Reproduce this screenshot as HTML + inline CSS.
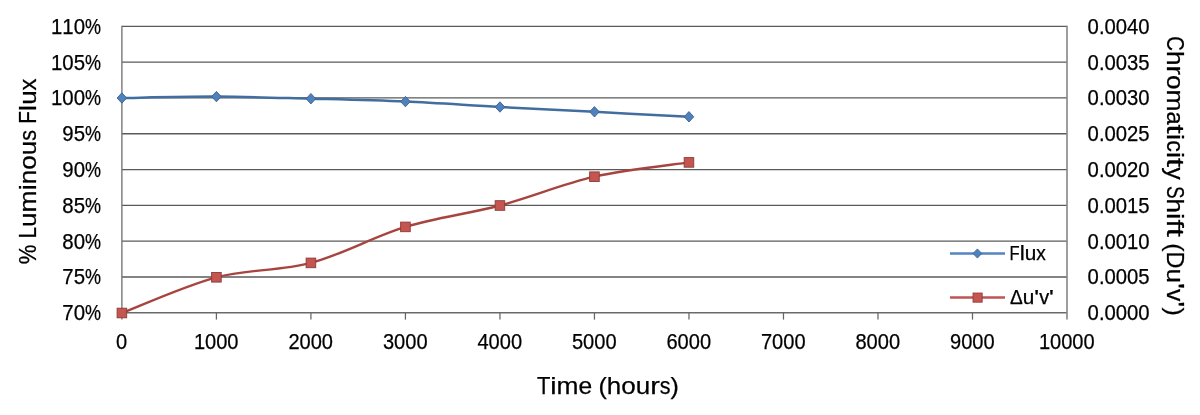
<!DOCTYPE html>
<html><head><meta charset="utf-8"><style>
html,body{margin:0;padding:0;background:#fff;width:1200px;height:415px;overflow:hidden}
svg{display:block;will-change:transform}
text{font-family:"Liberation Sans",sans-serif;stroke:#000;stroke-width:0.25px}
</style></head><body>
<svg width="1200" height="415" viewBox="0 0 1200 415">
<rect width="1200" height="415" fill="#fff"/>
<line x1="121.90" y1="26.30" x2="1067.00" y2="26.30" stroke="#5a5a5a" stroke-width="1.3"/>
<line x1="121.90" y1="62.11" x2="1067.00" y2="62.11" stroke="#5a5a5a" stroke-width="1.3"/>
<line x1="121.90" y1="97.92" x2="1067.00" y2="97.92" stroke="#5a5a5a" stroke-width="1.3"/>
<line x1="121.90" y1="133.74" x2="1067.00" y2="133.74" stroke="#5a5a5a" stroke-width="1.3"/>
<line x1="121.90" y1="169.55" x2="1067.00" y2="169.55" stroke="#5a5a5a" stroke-width="1.3"/>
<line x1="121.90" y1="205.36" x2="1067.00" y2="205.36" stroke="#5a5a5a" stroke-width="1.3"/>
<line x1="121.90" y1="241.18" x2="1067.00" y2="241.18" stroke="#5a5a5a" stroke-width="1.3"/>
<line x1="121.90" y1="276.99" x2="1067.00" y2="276.99" stroke="#5a5a5a" stroke-width="1.3"/>
<line x1="121.90" y1="312.80" x2="1067.00" y2="312.80" stroke="#6a6a6a" stroke-width="1.45"/>
<line x1="121.90" y1="25.65" x2="121.90" y2="319.60" stroke="#737373" stroke-width="1.35"/>
<line x1="1067.00" y1="25.65" x2="1067.00" y2="319.60" stroke="#868686" stroke-width="1.6"/>
<line x1="216.41" y1="312.80" x2="216.41" y2="319.60" stroke="#666666" stroke-width="1.25"/>
<line x1="310.92" y1="312.80" x2="310.92" y2="319.60" stroke="#666666" stroke-width="1.25"/>
<line x1="405.43" y1="312.80" x2="405.43" y2="319.60" stroke="#666666" stroke-width="1.25"/>
<line x1="499.94" y1="312.80" x2="499.94" y2="319.60" stroke="#666666" stroke-width="1.25"/>
<line x1="594.45" y1="312.80" x2="594.45" y2="319.60" stroke="#666666" stroke-width="1.25"/>
<line x1="688.96" y1="312.80" x2="688.96" y2="319.60" stroke="#666666" stroke-width="1.25"/>
<line x1="783.47" y1="312.80" x2="783.47" y2="319.60" stroke="#666666" stroke-width="1.25"/>
<line x1="877.98" y1="312.80" x2="877.98" y2="319.60" stroke="#666666" stroke-width="1.25"/>
<line x1="972.49" y1="312.80" x2="972.49" y2="319.60" stroke="#666666" stroke-width="1.25"/>
<g transform="translate(0,33.70)"><text x="50.94" y="0" font-size="21.60" textLength="11.35" lengthAdjust="spacingAndGlyphs">1</text><text x="62.29" y="0" font-size="21.60" textLength="11.35" lengthAdjust="spacingAndGlyphs">1</text><text x="73.65" y="0" font-size="21.60" textLength="11.35" lengthAdjust="spacingAndGlyphs">0</text><text x="85.00" y="0" font-size="21.60" textLength="16.00" lengthAdjust="spacingAndGlyphs">%</text></g>
<g transform="translate(0,69.51)"><text x="50.94" y="0" font-size="21.60" textLength="11.35" lengthAdjust="spacingAndGlyphs">1</text><text x="62.29" y="0" font-size="21.60" textLength="11.35" lengthAdjust="spacingAndGlyphs">0</text><text x="73.65" y="0" font-size="21.60" textLength="11.35" lengthAdjust="spacingAndGlyphs">5</text><text x="85.00" y="0" font-size="21.60" textLength="16.00" lengthAdjust="spacingAndGlyphs">%</text></g>
<g transform="translate(0,105.33)"><text x="50.94" y="0" font-size="21.60" textLength="11.35" lengthAdjust="spacingAndGlyphs">1</text><text x="62.29" y="0" font-size="21.60" textLength="11.35" lengthAdjust="spacingAndGlyphs">0</text><text x="73.65" y="0" font-size="21.60" textLength="11.35" lengthAdjust="spacingAndGlyphs">0</text><text x="85.00" y="0" font-size="21.60" textLength="16.00" lengthAdjust="spacingAndGlyphs">%</text></g>
<g transform="translate(0,141.14)"><text x="62.29" y="0" font-size="21.60" textLength="11.35" lengthAdjust="spacingAndGlyphs">9</text><text x="73.65" y="0" font-size="21.60" textLength="11.35" lengthAdjust="spacingAndGlyphs">5</text><text x="85.00" y="0" font-size="21.60" textLength="16.00" lengthAdjust="spacingAndGlyphs">%</text></g>
<g transform="translate(0,176.95)"><text x="62.29" y="0" font-size="21.60" textLength="11.35" lengthAdjust="spacingAndGlyphs">9</text><text x="73.65" y="0" font-size="21.60" textLength="11.35" lengthAdjust="spacingAndGlyphs">0</text><text x="85.00" y="0" font-size="21.60" textLength="16.00" lengthAdjust="spacingAndGlyphs">%</text></g>
<g transform="translate(0,212.76)"><text x="62.29" y="0" font-size="21.60" textLength="11.35" lengthAdjust="spacingAndGlyphs">8</text><text x="73.65" y="0" font-size="21.60" textLength="11.35" lengthAdjust="spacingAndGlyphs">5</text><text x="85.00" y="0" font-size="21.60" textLength="16.00" lengthAdjust="spacingAndGlyphs">%</text></g>
<g transform="translate(0,248.58)"><text x="62.29" y="0" font-size="21.60" textLength="11.35" lengthAdjust="spacingAndGlyphs">8</text><text x="73.65" y="0" font-size="21.60" textLength="11.35" lengthAdjust="spacingAndGlyphs">0</text><text x="85.00" y="0" font-size="21.60" textLength="16.00" lengthAdjust="spacingAndGlyphs">%</text></g>
<g transform="translate(0,284.39)"><text x="62.29" y="0" font-size="21.60" textLength="11.35" lengthAdjust="spacingAndGlyphs">7</text><text x="73.65" y="0" font-size="21.60" textLength="11.35" lengthAdjust="spacingAndGlyphs">5</text><text x="85.00" y="0" font-size="21.60" textLength="16.00" lengthAdjust="spacingAndGlyphs">%</text></g>
<g transform="translate(0,320.20)"><text x="62.29" y="0" font-size="21.60" textLength="11.35" lengthAdjust="spacingAndGlyphs">7</text><text x="73.65" y="0" font-size="21.60" textLength="11.35" lengthAdjust="spacingAndGlyphs">0</text><text x="85.00" y="0" font-size="21.60" textLength="16.00" lengthAdjust="spacingAndGlyphs">%</text></g>
<text x="1087.6" y="33.70" font-family="Liberation Sans, sans-serif" font-size="21.60" textLength="62.06" lengthAdjust="spacingAndGlyphs" fill="#000">0.0040</text>
<text x="1087.6" y="69.51" font-family="Liberation Sans, sans-serif" font-size="21.60" textLength="62.06" lengthAdjust="spacingAndGlyphs" fill="#000">0.0035</text>
<text x="1087.6" y="105.33" font-family="Liberation Sans, sans-serif" font-size="21.60" textLength="62.06" lengthAdjust="spacingAndGlyphs" fill="#000">0.0030</text>
<text x="1087.6" y="141.14" font-family="Liberation Sans, sans-serif" font-size="21.60" textLength="62.06" lengthAdjust="spacingAndGlyphs" fill="#000">0.0025</text>
<text x="1087.6" y="176.95" font-family="Liberation Sans, sans-serif" font-size="21.60" textLength="62.06" lengthAdjust="spacingAndGlyphs" fill="#000">0.0020</text>
<text x="1087.6" y="212.76" font-family="Liberation Sans, sans-serif" font-size="21.60" textLength="62.06" lengthAdjust="spacingAndGlyphs" fill="#000">0.0015</text>
<text x="1087.6" y="248.58" font-family="Liberation Sans, sans-serif" font-size="21.60" textLength="62.06" lengthAdjust="spacingAndGlyphs" fill="#000">0.0010</text>
<text x="1087.6" y="284.39" font-family="Liberation Sans, sans-serif" font-size="21.60" textLength="62.06" lengthAdjust="spacingAndGlyphs" fill="#000">0.0005</text>
<text x="1087.6" y="320.20" font-family="Liberation Sans, sans-serif" font-size="21.60" textLength="62.06" lengthAdjust="spacingAndGlyphs" fill="#000">0.0000</text>
<text x="121.70" y="349.0" font-family="Liberation Sans, sans-serif" font-size="21.60" text-anchor="middle" textLength="11.16" lengthAdjust="spacingAndGlyphs" fill="#000">0</text>
<text x="216.21" y="349.0" font-family="Liberation Sans, sans-serif" font-size="21.60" text-anchor="middle" textLength="44.64" lengthAdjust="spacingAndGlyphs" fill="#000">1000</text>
<text x="310.72" y="349.0" font-family="Liberation Sans, sans-serif" font-size="21.60" text-anchor="middle" textLength="44.64" lengthAdjust="spacingAndGlyphs" fill="#000">2000</text>
<text x="405.23" y="349.0" font-family="Liberation Sans, sans-serif" font-size="21.60" text-anchor="middle" textLength="44.64" lengthAdjust="spacingAndGlyphs" fill="#000">3000</text>
<text x="499.74" y="349.0" font-family="Liberation Sans, sans-serif" font-size="21.60" text-anchor="middle" textLength="44.64" lengthAdjust="spacingAndGlyphs" fill="#000">4000</text>
<text x="594.25" y="349.0" font-family="Liberation Sans, sans-serif" font-size="21.60" text-anchor="middle" textLength="44.64" lengthAdjust="spacingAndGlyphs" fill="#000">5000</text>
<text x="688.76" y="349.0" font-family="Liberation Sans, sans-serif" font-size="21.60" text-anchor="middle" textLength="44.64" lengthAdjust="spacingAndGlyphs" fill="#000">6000</text>
<text x="783.27" y="349.0" font-family="Liberation Sans, sans-serif" font-size="21.60" text-anchor="middle" textLength="44.64" lengthAdjust="spacingAndGlyphs" fill="#000">7000</text>
<text x="877.78" y="349.0" font-family="Liberation Sans, sans-serif" font-size="21.60" text-anchor="middle" textLength="44.64" lengthAdjust="spacingAndGlyphs" fill="#000">8000</text>
<text x="972.29" y="349.0" font-family="Liberation Sans, sans-serif" font-size="21.60" text-anchor="middle" textLength="44.64" lengthAdjust="spacingAndGlyphs" fill="#000">9000</text>
<text x="1066.80" y="349.0" font-family="Liberation Sans, sans-serif" font-size="21.60" text-anchor="middle" textLength="55.80" lengthAdjust="spacingAndGlyphs" fill="#000">10000</text>
<g transform="translate(0,394.0)"><text x="536.90" y="0" font-size="24.00" textLength="13.40" lengthAdjust="spacingAndGlyphs">T</text><text x="550.30" y="0" font-size="24.00" textLength="6.31" lengthAdjust="spacingAndGlyphs">i</text><text x="556.61" y="0" font-size="24.00" textLength="21.97" lengthAdjust="spacingAndGlyphs">m</text><text x="578.58" y="0" font-size="24.00" textLength="13.68" lengthAdjust="spacingAndGlyphs">e</text><text x="598.48" y="0" font-size="24.00" textLength="8.34" lengthAdjust="spacingAndGlyphs">(</text><text x="606.82" y="0" font-size="24.00" textLength="14.45" lengthAdjust="spacingAndGlyphs">h</text><text x="621.27" y="0" font-size="24.00" textLength="14.50" lengthAdjust="spacingAndGlyphs">o</text><text x="635.77" y="0" font-size="24.00" textLength="14.45" lengthAdjust="spacingAndGlyphs">u</text><text x="650.22" y="0" font-size="24.00" textLength="9.59" lengthAdjust="spacingAndGlyphs">r</text><text x="659.80" y="0" font-size="24.00" textLength="10.76" lengthAdjust="spacingAndGlyphs">s</text><text x="670.56" y="0" font-size="24.00" textLength="8.34" lengthAdjust="spacingAndGlyphs">)</text></g>
<g transform="translate(35.5,264.3) rotate(-90)"><text x="0.00" y="0" font-size="24.30" textLength="19.65" lengthAdjust="spacingAndGlyphs">%</text><text x="25.86" y="0" font-size="24.30" textLength="11.56" lengthAdjust="spacingAndGlyphs">L</text><text x="37.42" y="0" font-size="24.30" textLength="14.45" lengthAdjust="spacingAndGlyphs">u</text><text x="51.87" y="0" font-size="24.30" textLength="21.97" lengthAdjust="spacingAndGlyphs">m</text><text x="73.84" y="0" font-size="24.30" textLength="6.31" lengthAdjust="spacingAndGlyphs">i</text><text x="80.15" y="0" font-size="24.30" textLength="14.45" lengthAdjust="spacingAndGlyphs">n</text><text x="94.60" y="0" font-size="24.30" textLength="14.50" lengthAdjust="spacingAndGlyphs">o</text><text x="109.10" y="0" font-size="24.30" textLength="14.45" lengthAdjust="spacingAndGlyphs">u</text><text x="123.55" y="0" font-size="24.30" textLength="10.76" lengthAdjust="spacingAndGlyphs">s</text><text x="140.52" y="0" font-size="24.30" textLength="12.64" lengthAdjust="spacingAndGlyphs">F</text><text x="153.16" y="0" font-size="24.30" textLength="6.31" lengthAdjust="spacingAndGlyphs">l</text><text x="159.47" y="0" font-size="24.30" textLength="14.45" lengthAdjust="spacingAndGlyphs">u</text><text x="173.92" y="0" font-size="24.30" textLength="11.91" lengthAdjust="spacingAndGlyphs">x</text></g>
<g transform="translate(1167.0,36.3) rotate(90)"><text x="0.00" y="0" font-size="24.50" textLength="14.66" lengthAdjust="spacingAndGlyphs">C</text><text x="14.66" y="0" font-size="24.50" textLength="14.45" lengthAdjust="spacingAndGlyphs">h</text><text x="29.11" y="0" font-size="24.50" textLength="9.59" lengthAdjust="spacingAndGlyphs">r</text><text x="38.70" y="0" font-size="24.50" textLength="14.50" lengthAdjust="spacingAndGlyphs">o</text><text x="53.20" y="0" font-size="24.50" textLength="21.97" lengthAdjust="spacingAndGlyphs">m</text><text x="75.17" y="0" font-size="24.50" textLength="13.17" lengthAdjust="spacingAndGlyphs">a</text><text x="88.34" y="0" font-size="24.50" textLength="9.21" lengthAdjust="spacingAndGlyphs">t</text><text x="97.55" y="0" font-size="24.50" textLength="6.31" lengthAdjust="spacingAndGlyphs">i</text><text x="103.86" y="0" font-size="24.50" textLength="11.63" lengthAdjust="spacingAndGlyphs">c</text><text x="115.49" y="0" font-size="24.50" textLength="6.31" lengthAdjust="spacingAndGlyphs">i</text><text x="121.80" y="0" font-size="24.50" textLength="9.21" lengthAdjust="spacingAndGlyphs">t</text><text x="131.02" y="0" font-size="24.50" textLength="12.45" lengthAdjust="spacingAndGlyphs">y</text><text x="149.68" y="0" font-size="24.50" textLength="12.64" lengthAdjust="spacingAndGlyphs">S</text><text x="162.32" y="0" font-size="24.50" textLength="14.45" lengthAdjust="spacingAndGlyphs">h</text><text x="176.76" y="0" font-size="24.50" textLength="6.31" lengthAdjust="spacingAndGlyphs">i</text><text x="183.08" y="0" font-size="24.50" textLength="8.39" lengthAdjust="spacingAndGlyphs">f</text><text x="191.47" y="0" font-size="24.50" textLength="9.21" lengthAdjust="spacingAndGlyphs">t</text><text x="206.90" y="0" font-size="24.50" textLength="8.34" lengthAdjust="spacingAndGlyphs">(</text><text x="215.24" y="0" font-size="24.50" textLength="16.92" lengthAdjust="spacingAndGlyphs">D</text><text x="232.15" y="0" font-size="24.50" textLength="14.45" lengthAdjust="spacingAndGlyphs">u</text><text x="246.60" y="0" font-size="24.50" textLength="6.07" lengthAdjust="spacingAndGlyphs">&#39;</text><text x="252.67" y="0" font-size="24.50" textLength="12.42" lengthAdjust="spacingAndGlyphs">v</text><text x="265.09" y="0" font-size="24.50" textLength="6.07" lengthAdjust="spacingAndGlyphs">&#39;</text><text x="271.16" y="0" font-size="24.50" textLength="8.34" lengthAdjust="spacingAndGlyphs">)</text></g>
<path d="M121.90,313.00 C137.65,307.05 184.91,285.65 216.41,277.30 C247.91,268.95 279.42,271.30 310.92,262.90 C342.42,254.50 373.93,236.47 405.43,226.90 C436.93,217.33 468.44,213.87 499.94,205.50 C531.44,197.13 562.95,183.88 594.45,176.70 C625.95,169.52 673.21,164.78 688.96,162.40" fill="none" stroke="#A8443F" stroke-width="2.4" stroke-linejoin="round" stroke-linecap="round"/>
<path d="M121.90,98.00 C137.65,97.77 184.91,96.48 216.41,96.60 C247.91,96.72 279.42,97.87 310.92,98.70 C342.42,99.53 373.93,100.22 405.43,101.60 C436.93,102.98 468.44,105.30 499.94,107.00 C531.44,108.70 562.95,110.17 594.45,111.80 C625.95,113.43 673.21,115.97 688.96,116.80" fill="none" stroke="#416DA0" stroke-width="2.5" stroke-linejoin="round" stroke-linecap="round"/>
<path d="M121.90,92.80 L126.70,98.00 L121.90,103.20 L117.10,98.00 Z" fill="#4F81BD" stroke="#3A5F8E" stroke-width="0.9"/>
<path d="M216.41,91.40 L221.21,96.60 L216.41,101.80 L211.61,96.60 Z" fill="#4F81BD" stroke="#3A5F8E" stroke-width="0.9"/>
<path d="M310.92,93.50 L315.72,98.70 L310.92,103.90 L306.12,98.70 Z" fill="#4F81BD" stroke="#3A5F8E" stroke-width="0.9"/>
<path d="M405.43,96.40 L410.23,101.60 L405.43,106.80 L400.63,101.60 Z" fill="#4F81BD" stroke="#3A5F8E" stroke-width="0.9"/>
<path d="M499.94,101.80 L504.74,107.00 L499.94,112.20 L495.14,107.00 Z" fill="#4F81BD" stroke="#3A5F8E" stroke-width="0.9"/>
<path d="M594.45,106.60 L599.25,111.80 L594.45,117.00 L589.65,111.80 Z" fill="#4F81BD" stroke="#3A5F8E" stroke-width="0.9"/>
<path d="M688.96,111.60 L693.76,116.80 L688.96,122.00 L684.16,116.80 Z" fill="#4F81BD" stroke="#3A5F8E" stroke-width="0.9"/>
<rect x="117.10" y="308.20" width="9.6" height="9.6" fill="#C5554F" stroke="#8C3A38" stroke-width="0.9"/>
<rect x="211.61" y="272.50" width="9.6" height="9.6" fill="#C5554F" stroke="#8C3A38" stroke-width="0.9"/>
<rect x="306.12" y="258.10" width="9.6" height="9.6" fill="#C5554F" stroke="#8C3A38" stroke-width="0.9"/>
<rect x="400.63" y="222.10" width="9.6" height="9.6" fill="#C5554F" stroke="#8C3A38" stroke-width="0.9"/>
<rect x="495.14" y="200.70" width="9.6" height="9.6" fill="#C5554F" stroke="#8C3A38" stroke-width="0.9"/>
<rect x="589.65" y="171.90" width="9.6" height="9.6" fill="#C5554F" stroke="#8C3A38" stroke-width="0.9"/>
<rect x="684.16" y="157.60" width="9.6" height="9.6" fill="#C5554F" stroke="#8C3A38" stroke-width="0.9"/>
<line x1="950" y1="253.5" x2="1005" y2="253.5" stroke="#5585C0" stroke-width="2.5"/>
<path d="M977.40,248.90 L981.80,253.50 L977.40,258.10 L973.00,253.50 Z" fill="#4F81BD" stroke="#3A5F8E" stroke-width="0.8"/>
<line x1="950" y1="297.5" x2="1005" y2="297.5" stroke="#BE5552" stroke-width="2.5"/>
<rect x="973.00" y="293.00" width="9.2" height="9.2" fill="#C5554F" stroke="#8C3A38" stroke-width="0.8"/>
<g transform="translate(0,259.6)"><text x="1009.60" y="0" font-size="20.00" textLength="10.11" lengthAdjust="spacingAndGlyphs">F</text><text x="1019.71" y="0" font-size="20.00" textLength="5.05" lengthAdjust="spacingAndGlyphs">l</text><text x="1024.76" y="0" font-size="20.00" textLength="11.56" lengthAdjust="spacingAndGlyphs">u</text><text x="1036.32" y="0" font-size="20.00" textLength="9.53" lengthAdjust="spacingAndGlyphs">x</text></g>
<g transform="translate(0,303.8)"><text x="1010.00" y="0" font-size="19.80" textLength="12.76" lengthAdjust="spacingAndGlyphs">Δ</text><text x="1022.76" y="0" font-size="19.80" textLength="11.56" lengthAdjust="spacingAndGlyphs">u</text><text x="1034.32" y="0" font-size="19.80" textLength="4.86" lengthAdjust="spacingAndGlyphs">&#39;</text><text x="1039.17" y="0" font-size="19.80" textLength="9.94" lengthAdjust="spacingAndGlyphs">v</text><text x="1049.11" y="0" font-size="19.80" textLength="4.86" lengthAdjust="spacingAndGlyphs">&#39;</text></g>
</svg>
</body></html>
